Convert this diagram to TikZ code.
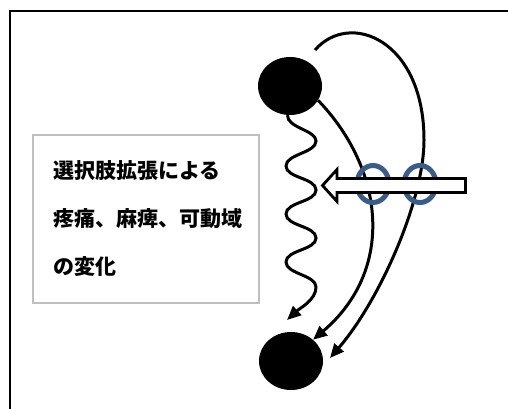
\documentclass[tikz,border=0pt]{standalone}
\usepackage{fontspec}
\newfontfamily\cjk{Noto Sans CJK JP}
\usetikzlibrary{arrows.meta,shapes.geometric,calc}
\definecolor{ringblue}{HTML}{385D8A}
\definecolor{boxgray}{HTML}{BFBFBF}
\begin{document}
\begin{tikzpicture}[x=1pt,y=-1pt,
  ball/.style={ellipse, fill=black, minimum width=64pt, minimum height=58pt, inner sep=0pt},
  conn/.style={line width=3pt, -{Triangle[length=14pt,width=12pt]}},
  ring/.style={ellipse, draw=ringblue, line width=5pt, minimum width=32pt, minimum height=37pt, inner sep=0pt},
  textbox/.style={draw=boxgray, line width=1.5pt, minimum width=226pt, minimum height=168pt, inner sep=0pt},
  cjklabel/.style={align=left, inner sep=0pt, font=\cjk\bfseries\fontsize{21}{48}\selectfont},
  bigarrow/.style={draw=black, fill=white, line width=2.8pt, line join=miter}]
\useasboundingbox (0,0) rectangle (508,409);
\draw[line width=2.5pt] (10,409) -- (10,11) -- (508,11);
% text box
\node[textbox, anchor=north west] (box) at (32,134) {};
\node[cjklabel, anchor=west] (txt) at (53,219) {選択肢拡張による\\疼痛、麻痺、可動域\\の変化};
% balls
\node[ball] (a) at (290,86) {};
\node[ball] (b) at (291,361) {};
\coordinate (s2) at (315,50);
\coordinate (m2) at (424,140);
\coordinate (t2) at (330,358);
\coordinate (t0) at (287,320);
% wavy connector
\draw[conn] (a.-95) .. controls (287,128) and (316,130) .. (316,141)
  .. controls (316,153) and (286,154) .. (286,166)
  .. controls (286,178) and (316,178) .. (316,190)
  .. controls (316,202) and (286,202) .. (286,214)
  .. controls (286,226) and (316,226) .. (316,238)
  .. controls (316,250) and (286,250) .. (286,262)
  .. controls (286,274) and (316,275) .. (316,287)
  .. controls (316,300) and (300,308) .. (t0);
% curves
\draw[conn] (a.-27) .. controls (385,170) and (395,270) .. (b.44);
\draw[conn] (s2) .. controls (350,10) and (424,40) .. (m2)
  .. controls (424,200) and (380,300) .. (t2);
% rings
\node[ring] (r1) at (373,184) {};
\node[ring] (r2) at (420,184) {};
% big arrow
\draw[bigarrow] (465.5,178.5) -- (337,178.5) -- (337,169.5) -- (322.5,185.5)
  -- (337,201.5) -- (337,192.5) -- (465.5,192.5) -- cycle;
\end{tikzpicture}
\end{document}
